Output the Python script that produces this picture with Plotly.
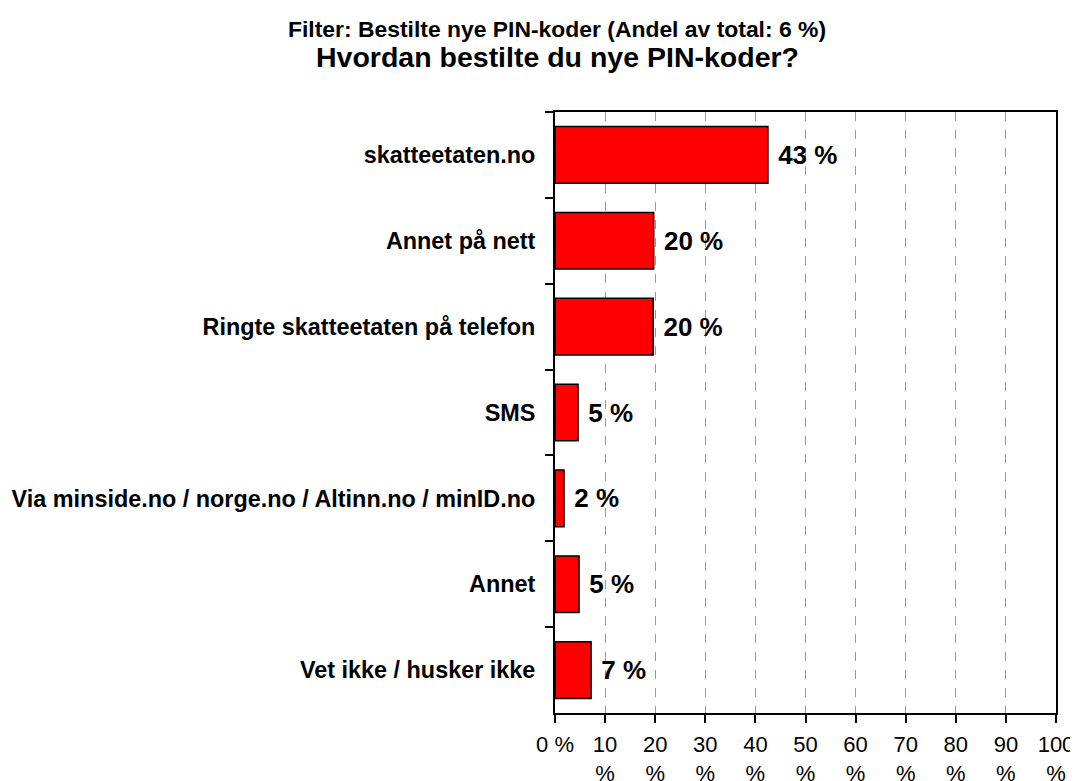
import plotly.graph_objects as go

categories = [
    "skatteetaten.no",
    "Annet på nett",
    "Ringte skatteetaten på telefon",
    "SMS",
    "Via minside.no / norge.no / Altinn.no / minID.no",
    "Annet",
    "Vet ikke / husker ikke",
]
values = [42.5, 19.7, 19.6, 4.6, 1.8, 4.8, 7.2]
labels = ["43 %", "20 %", "20 %", "5 %", "2 %", "5 %", "7 %"]
tick_vals = [0, 10, 20, 30, 40, 50, 60, 70, 80, 90, 100]
tick_text = ["0 %"] + [f"{v}<br>%" for v in tick_vals[1:]]
title_line1 = "Filter: Bestilte nye PIN-koder (Andel av total: 6 %)"
title_line2 = "Hvordan bestilte du nye PIN-koder?"

FONT = "Liberation Sans, Arial, sans-serif"

# page body has an 8px default margin; compensate so the plot lands where the reference has it
OFF = 8
W, H = 1078 - OFF, 781 - OFF
PL, PR, PT, PB = 555 - OFF, 1056 - OFF, 112 - OFF, 713 - OFF
ph = PB - PT
pw = PR - PL

fig = go.Figure(
    go.Bar(
        x=values,
        y=categories,
        orientation="h",
        text=labels,
        texttemplate=" %{text}",
        textposition="outside",
        cliponaxis=False,
        textfont=dict(family=FONT, size=26, color="black", weight="bold"),
        marker=dict(color="#FF0000", line=dict(color="black", width=1.5)),
        width=0.66,
    )
)

fig.update_layout(
    width=W,
    height=H,
    margin=dict(l=PL, r=W - PR, t=PT, b=H - PB, autoexpand=False),
    paper_bgcolor="white",
    plot_bgcolor="white",
    showlegend=False,
    font=dict(family=FONT, color="black"),
    annotations=[
        dict(
            text=f"<b>{title_line1}</b>",
            xref="paper", yref="paper",
            x=(557 - OFF - PL) / pw, y=(PB - (29 - OFF)) / ph,
            xanchor="center", yanchor="middle",
            showarrow=False,
            font=dict(family=FONT, size=22.9, color="black"),
        ),
        dict(
            text=f"<b>{title_line2}</b>",
            xref="paper", yref="paper",
            x=(557 - OFF - PL) / pw, y=(PB - (57 - OFF)) / ph,
            xanchor="center", yanchor="middle",
            showarrow=False,
            font=dict(family=FONT, size=28.5, color="black"),
        ),
    ],
)

fig.update_xaxes(
    range=[0, 100],
    tickvals=tick_vals,
    ticktext=tick_text,
    tickfont=dict(family=FONT, size=22, color="black"),
    ticks="outside",
    ticklen=8,
    tickwidth=1.5,
    tickcolor="black",
    ticklabelstandoff=3,
    ticklabeloverflow="allow",
    showgrid=True,
    gridcolor="#999999",
    griddash="dash",
    gridwidth=1,
    showline=True,
    linecolor="black",
    linewidth=2,
    mirror=True,
    zeroline=False,
    automargin=False,
    fixedrange=True,
)

fig.update_yaxes(
    categoryorder="array",
    categoryarray=categories,
    autorange="reversed",
    tickson="boundaries",
    ticks="outside",
    ticklen=8,
    tickwidth=1.5,
    tickcolor="black",
    tickfont=dict(family=FONT, size=23.4, weight="bold", color="black"),
    showline=True,
    linecolor="black",
    linewidth=2,
    mirror=True,
    showgrid=False,
    ticklabelstandoff=13,
    automargin=False,
)

fig.write_html("out.html")
